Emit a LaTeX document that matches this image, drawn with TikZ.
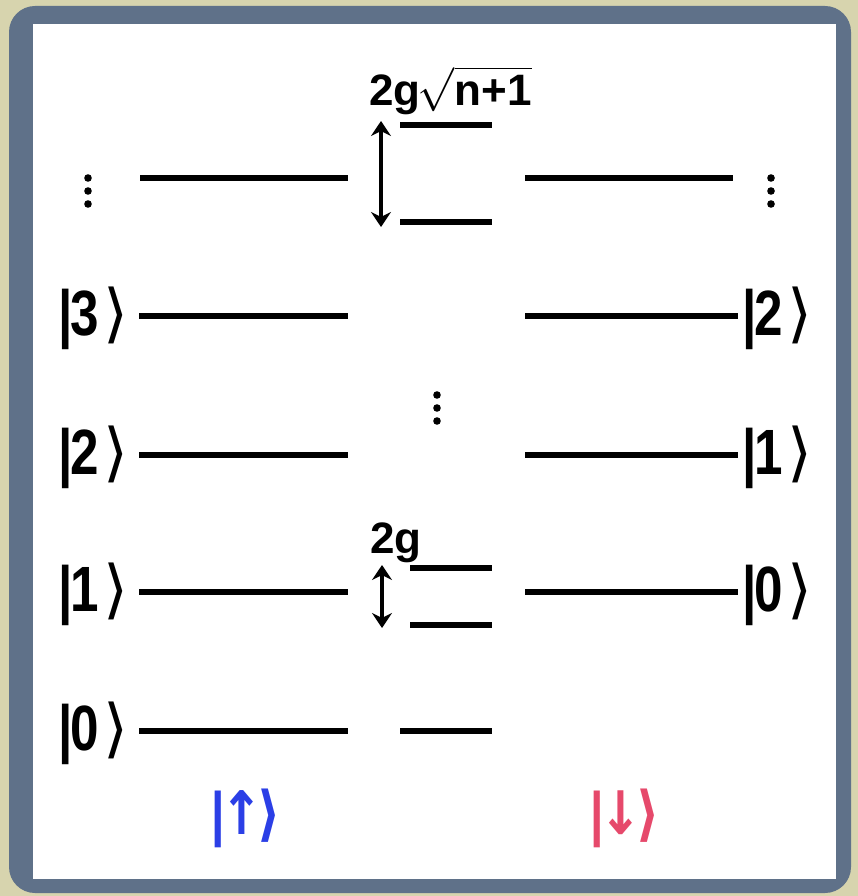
\RequirePackage{fix-cm}
\documentclass[tikz,border=0pt]{standalone}
\usepackage{fontspec}
\setmainfont{Liberation Sans}
\newfontfamily\labfont[FakeStretch=0.8]{Liberation Sans Bold}
\newfontfamily\gfont{Liberation Sans Bold}
\newfontfamily\symfont{DejaVu Sans}
\newfontfamily\symbfont[FakeStretch=0.85]{DejaVu Sans Bold}
\usetikzlibrary{arrows.meta}

\definecolor{paper}{HTML}{D7D4AE}
\definecolor{frame}{HTML}{5F7189}
\definecolor{upblue}{HTML}{2B3FE6}
\definecolor{downred}{HTML}{E6496B}

\newcommand{\ketof}[1]{|\kern-0.03em#1\kern0.07em{\symfont ⟩}}

\tikzset{
  lvl/.style={line width=6.5pt},
  gap/.style={line width=4.5pt, {Stealth[length=15pt,width=20pt]}-{Stealth[length=15pt,width=20pt]}},
  ketlbl/.style={inner sep=0pt, font=\labfont\fontsize{64}{66}\selectfont},
  splitlbl/.style={inner sep=0pt, font=\gfont\fontsize{44}{48}\selectfont},
  spinlbl/.style={inner sep=0pt, font=\labfont\fontsize{60}{64}\selectfont},
}

\newcommand{\dotcol}[3]{% name, x, y of top dot
  \node[inner sep=0pt, minimum size=0pt] (#1) at (#2,#3+13) {};
  \foreach \k in {0,1,2} \fill (#2,#3+13*\k) circle (3.8pt);
}

\begin{document}
\begin{tikzpicture}[x=1pt,y=-1pt]
\useasboundingbox (0,0) rectangle (858,896);
% backdrop and frame
\fill[paper] (0,0) rectangle (858,896);
\fill[frame, rounded corners=26pt] (9,6) rectangle (851,893);
\fill[white] (33,24) rectangle (836,879);

% left ladder |n>|up>
\foreach \y/\n in {316/3,455/2,592/1,731/0}{
  \node[ketlbl, anchor=east] (L\n) at (129,\y+2) {\ketof{\n}};
  \draw[lvl] (139,\y) -- (348,\y);
}
\draw[lvl] (140,178) -- (348,178);
\dotcol{dotsL}{88}{178}

% right ladder |n>|down>
\foreach \y/\n in {316/2,455/1,592/0}{
  \node[ketlbl, anchor=west] (R\n) at (742,\y+2) {\ketof{\n}};
  \draw[lvl] (525,\y) -- (738,\y);
}
\draw[lvl] (525,178) -- (733,178);
\dotcol{dotsR}{771}{178}

% dressed doublets
\draw[lvl] (400,125) -- (492,125);
\draw[lvl] (400,222) -- (492,222);
\coordinate (gapTa) at (381,121);
\coordinate (gapTb) at (381,227);
\draw[gap] (gapTa) -- (gapTb);
\node[splitlbl, anchor=base west] (gTop) at (369,106) {2g\kern-0.06em\(\sqrt{\hbox{n+1}}\)};

\dotcol{dotsM}{437}{395}

\draw[lvl] (410,568) -- (492,568);
\draw[lvl] (410,625) -- (492,625);
\coordinate (gapBa) at (382,565);
\coordinate (gapBb) at (382,628);
\draw[gap] (gapBa) -- (gapBb);
\node[splitlbl, anchor=base west] (gBot) at (370,553) {2g};

\draw[lvl] (400,731) -- (492,731);

% spin labels
\node[spinlbl, text=upblue] (up) at (246,818) {|\kern-0.07em{\symbfont ↑\kern-0.1em⟩}};
\node[spinlbl, text=downred] (down) at (625,818) {|\kern-0.07em{\symbfont ↓\kern-0.1em⟩}};
\end{tikzpicture}
\end{document}
